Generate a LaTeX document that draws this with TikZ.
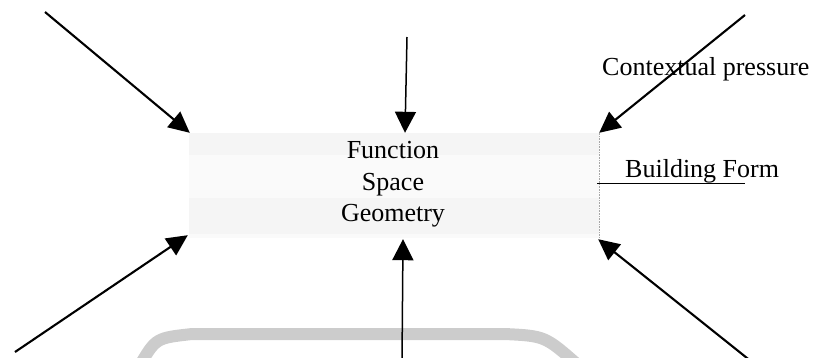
\documentclass[tikz,border=0pt]{standalone}
\usepackage{fontspec}
\setmainfont{Liberation Serif}
\usetikzlibrary{arrows.meta}
\begin{document}
\begin{tikzpicture}[x=1pt,y=-1pt,
  thickarrow/.style={line width=2.1pt,-{Triangle[length=21pt,width=20pt]}},
  thinarrow/.style={line width=1.5pt,-{Triangle[length=21pt,width=21pt]}},
  bigtext/.style={font=\fontsize{26}{31.5}\selectfont,inner sep=0pt}]
\useasboundingbox (0,0) rectangle (818,357);
% faint watermark band
\draw[line width=12pt,black!20] (140,365) .. controls (156,338) .. (192,334) -- (505,334) .. controls (545,336) .. (578,365);
% dotted light box
\node[minimum width=410pt,minimum height=105pt,inner sep=0pt,fill=black!2] (frame) at (394,185.5) {};
\fill[black!4] (frame.north west) rectangle ([yshift=-22pt]frame.north east);
\fill[black!4] ([yshift=4pt]frame.south west) rectangle ([yshift=40pt]frame.south east);
\draw[densely dotted,black!35,line width=0.6pt] (frame.north east) -- (frame.south east);
\node[bigtext,align=center] (core) at (393,184.5) {Function\\Space\\Geometry};
% right labels
\node[bigtext,anchor=base west] (ctx) at (602,75) {Contextual pressure};
\node[bigtext,anchor=base west] (bf) at (625,177) {Building Form};
\coordinate (ul1) at (597,183.5);
\coordinate (ul2) at (745,183.5);
\draw[line width=1.4pt] (ul1) -- (ul2);
% arrow start points
\coordinate (tl) at (45,12);
\coordinate (bl) at (15,352);
\coordinate (tc) at (407,37);
\coordinate (bc) at (402,362);
\coordinate (tr) at (745,15);
\coordinate (br) at (752,362);
\draw[thickarrow] (tl) -- ([xshift=1pt]frame.north west);
\draw[thickarrow] (bl) -- ([xshift=-1pt,yshift=3pt]frame.south west);
\draw[thinarrow] (tc) -- ([xshift=11pt]frame.north);
\draw[thinarrow] (bc) -- ([xshift=9pt,yshift=-1pt]frame.south);
\draw[thickarrow] (tr) -- (frame.north east);
\draw[thickarrow] (br) -- ([xshift=-1pt,yshift=-1pt]frame.south east);
\end{tikzpicture}
\end{document}
